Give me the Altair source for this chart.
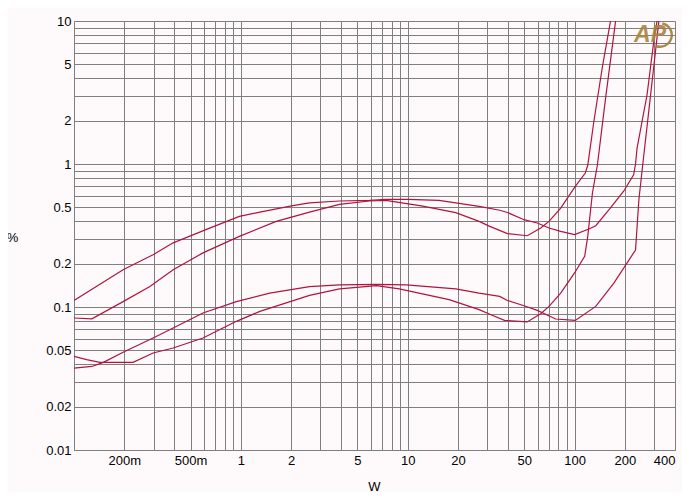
import altair as alt
import pandas as pd

# ---- data (power in W, THD+N in %) ----
a_w = [0.1, 0.197, 0.237, 0.298, 0.393, 0.65, 0.98, 1.3, 2.05, 2.58, 3.9, 5.9, 7.4, 10, 15.4,
       26.8, 35.6, 39.6, 49.8, 59.8, 70.3, 82.6, 100, 122, 134, 161, 197, 226, 232, 237, 272, 298.5, 327]
a_p = [0.111, 0.182, 0.203, 0.232, 0.281, 0.356, 0.43, 0.461, 0.511, 0.534, 0.551, 0.557, 0.565, 0.565, 0.557,
       0.505, 0.475, 0.458, 0.408, 0.387, 0.357, 0.338, 0.321, 0.351, 0.37, 0.479, 0.645, 0.841, 1.0, 1.29, 3.05, 7.2, 14]

b_w = [0.1, 0.128, 0.197, 0.285, 0.393, 0.593, 0.98, 1.63, 2.58, 3.9, 5.9, 7.4, 12.3, 19.4, 26.8,
       30.8, 39.6, 52.1, 62.7, 70.3, 82.6, 101, 116, 120, 130.6, 146.5, 164, 173]
b_p = [0.0838, 0.0826, 0.109, 0.139, 0.182, 0.239, 0.312, 0.397, 0.461, 0.522, 0.551, 0.557, 0.508, 0.457, 0.397,
       0.368, 0.326, 0.315, 0.357, 0.397, 0.492, 0.697, 0.865, 0.98, 1.99, 4.69, 9.9, 14]

c_w = [0.1, 0.119, 0.143, 0.226, 0.298, 0.393, 0.593, 0.94, 1.3, 2.58, 3.9, 6.5, 8.9, 17.7, 26.8,
       30.8, 38, 52, 62.7, 70.3, 82.6, 100, 115, 120, 128, 137, 153.5, 176, 183]
c_p = [0.0452, 0.0428, 0.041, 0.041, 0.0477, 0.0517, 0.0607, 0.0794, 0.0932, 0.1205, 0.134, 0.141, 0.134, 0.1125, 0.0958,
       0.0894, 0.0806, 0.0786, 0.0898, 0.101, 0.125, 0.173, 0.226, 0.312, 0.627, 0.98, 2.89, 9.9, 14]

d_w = [0.1, 0.128, 0.15, 0.197, 0.298, 0.393, 0.593, 0.94, 1.49, 2.58, 3.9, 6.5, 9.8, 19.4, 26.8,
       35.6, 39.6, 49.8, 59.8, 77, 101, 134, 172, 226, 232, 243, 254, 320, 331]
d_p = [0.0374, 0.0384, 0.041, 0.0482, 0.0607, 0.0713, 0.0908, 0.109, 0.125, 0.139, 0.143, 0.144, 0.143, 0.134, 0.125,
       0.1186, 0.111, 0.102, 0.0947, 0.0824, 0.0806, 0.101, 0.147, 0.239, 0.25, 0.562, 0.9, 9.9, 14]

x_grid = [0.2, 0.3, 0.4, 0.5, 0.6, 0.7, 0.8, 0.9, 1, 2, 3, 4, 5, 6, 7, 8, 9,
          10, 20, 30, 40, 50, 60, 70, 80, 90, 100, 200, 300, 400]
y_grid = [0.01, 0.02, 0.03, 0.04, 0.05, 0.06, 0.07, 0.08, 0.09,
          0.1, 0.2, 0.3, 0.4, 0.5, 0.6, 0.7, 0.8, 0.9,
          1, 2, 3, 4, 5, 6, 7, 8, 9, 10]

rows = []
for name, ws, ps in [("A", a_w, a_p), ("B", b_w, b_p), ("C", c_w, c_p), ("D", d_w, d_p)]:
    for i, (w, p) in enumerate(zip(ws, ps)):
        rows.append({"curve": name, "order": i, "W": w, "pct": p})
df = pd.DataFrame(rows)

GRID = "#7f7f7f"
FONT = "Liberation Sans"
GOLD = "#a8843f"

x_label_expr = ("datum.value == 0.2 ? '200m' : datum.value == 0.5 ? '500m' : "
                "indexof([1,2,5,10,20,50,100,200,400], datum.value) >= 0 ? format(datum.value, 'd') : ''")
y_label_expr = ("indexof([0.01,0.02,0.05,0.1,0.2,0.5,1,2,5,10], datum.value) >= 0 ? "
                "format(datum.value, '~g') : ''")

x_axis = alt.Axis(values=x_grid, labelExpr=x_label_expr, grid=True, gridColor=GRID, gridOpacity=1,
                  gridWidth=1, ticks=False, domainColor=GRID, domainWidth=1, labelFont=FONT,
                  labelFontSize=13, labelColor="#000000", labelPadding=4, labelOverlap=False,
                  labelFlush=True, labelBound=False, title="W", titleFont=FONT, titleFontSize=13,
                  titleFontWeight="normal", titleColor="#000000", titleX=300, titleY=36,
                  titleAlign="center", titleBaseline="middle")
y_axis = alt.Axis(values=y_grid, labelExpr=y_label_expr, grid=True, gridColor=GRID, gridOpacity=1,
                  gridWidth=1, ticks=False, domainColor=GRID, domainWidth=1, labelFont=FONT,
                  labelFontSize=13, labelColor="#000000", labelPadding=3, labelOverlap=False,
                  labelFlush=False, labelBound=False, title="%", titleFont=FONT, titleFontSize=13,
                  titleFontWeight="normal", titleColor="#000000", titleAngle=0, titleX=-62, titleY=216,
                  titleAlign="center", titleBaseline="middle")

lines = alt.Chart(df).mark_line(clip=True, strokeWidth=1.2, color="#b0143f").encode(
    x=alt.X("W:Q", scale=alt.Scale(type="log", domain=[0.1, 400], nice=False), axis=x_axis),
    y=alt.Y("pct:Q", scale=alt.Scale(type="log", domain=[0.01, 10], nice=False), axis=y_axis),
    detail="curve:N",
    order="order:Q",
)

# Audio Precision logo (decoration)
logo_df = pd.DataFrame({"t": ["AP"]})
logo_text = alt.Chart(logo_df).mark_text(
    font=FONT, fontSize=23, fontStyle="italic", fontWeight="bold",
    color=GOLD, align="center", baseline="middle", opacity=0.9
).encode(text="t:N", x=alt.value(576), y=alt.value(14))
logo_ring = alt.Chart(logo_df).mark_arc(color=GOLD, opacity=0.95).encode(
    x=alt.value(586), y=alt.value(14),
    theta=alt.value(0.2), theta2=alt.value(3.5),
    radius=alt.value(13), radius2=alt.value(10.5),
)

chart = alt.layer(lines, logo_text, logo_ring).properties(
    width=601, height=429,
    autosize=alt.AutoSizeParams(type="none"),
    padding={"left": 66, "top": 13, "right": 7, "bottom": 42},
    background="#fefafc",
).configure_view(stroke=None)

chart.save("out.html", embed_options={"renderer": "svg", "actions": False})
